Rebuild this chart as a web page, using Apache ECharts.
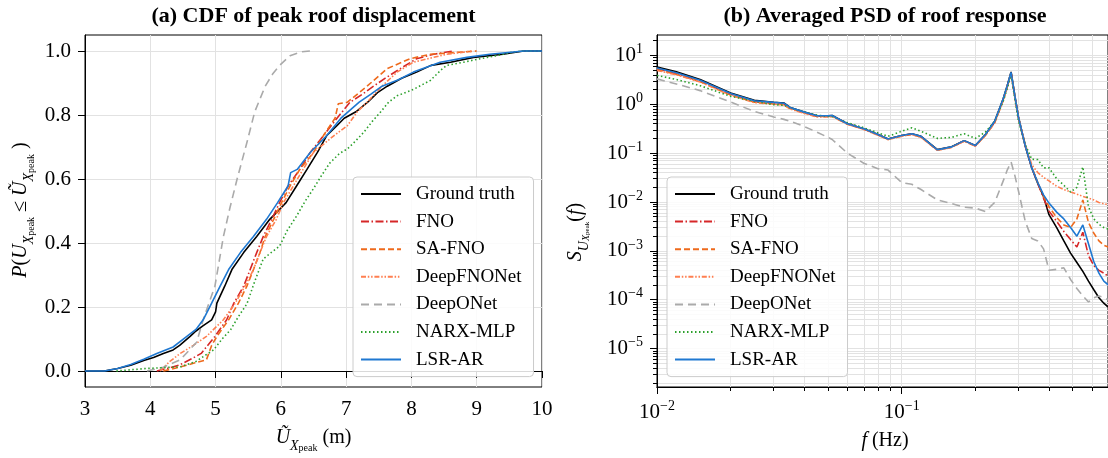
<!DOCTYPE html>
<html><head><meta charset="utf-8">
<style>html,body{margin:0;padding:0;background:#fff}#c{width:1108px;height:458px}</style>
<script src="https://cdn.jsdelivr.net/npm/echarts@6/dist/echarts.min.js"></script>
</head><body><div id="c"></div><script>
const seriesNames = ['Ground truth','FNO','SA-FNO','DeepFNONet','DeepONet','NARX-MLP','LSR-AR'];

// (a) empirical CDFs: [displacement (m), probability]
const cdfGroundTruth = [[3.0,0],[3.3,0],[3.5,0.008],[3.7,0.018],[3.9,0.033],[4.05,0.042],[4.2,0.055],[4.35,0.066],[4.45,0.08],[4.61,0.108],[4.7,0.125],[4.8,0.14],[4.94,0.16],[5.0,0.185],[5.02,0.212],[5.14,0.265],[5.25,0.317],[5.43,0.37],[5.63,0.42],[5.83,0.474],[5.98,0.505],[6.08,0.526],[6.24,0.578],[6.4,0.63],[6.56,0.683],[6.70,0.735],[6.85,0.765],[6.97,0.79],[7.15,0.81],[7.33,0.84],[7.48,0.87],[7.63,0.89],[7.85,0.915],[8.08,0.934],[8.3,0.955],[8.6,0.965],[8.95,0.98],[9.4,0.99],[9.72,1.0],[10,1.0]];
const cdfFNO = [[4.1,0],[4.3,0.01],[4.46,0.02],[4.65,0.04],[4.78,0.055],[4.99,0.108],[5.17,0.16],[5.28,0.212],[5.43,0.265],[5.53,0.317],[5.63,0.37],[5.73,0.42],[5.86,0.474],[5.98,0.526],[6.11,0.578],[6.29,0.63],[6.45,0.683],[6.65,0.735],[6.86,0.79],[7.06,0.84],[7.25,0.865],[7.42,0.89],[7.6,0.915],[7.83,0.945],[8.08,0.976],[8.34,0.99],[8.65,1.0]];
const cdfSAFNO = [[4.2,0],[4.45,0.012],[4.66,0.024],[4.86,0.035],[4.94,0.08],[5.02,0.108],[5.2,0.16],[5.35,0.212],[5.48,0.265],[5.58,0.317],[5.68,0.37],[5.76,0.42],[5.89,0.474],[6.01,0.526],[6.14,0.578],[6.29,0.63],[6.5,0.683],[6.65,0.735],[6.83,0.79],[6.88,0.835],[7.02,0.84],[7.32,0.89],[7.63,0.945],[7.98,0.976],[8.29,0.99],[9.0,1.0]];
const cdfDeepFNONet = [[4.15,0],[4.3,0.03],[4.46,0.055],[4.66,0.08],[4.86,0.108],[5.12,0.16],[5.3,0.212],[5.45,0.265],[5.58,0.317],[5.68,0.37],[5.78,0.42],[5.93,0.474],[6.04,0.526],[6.19,0.578],[6.34,0.63],[6.5,0.683],[6.81,0.735],[7.02,0.767],[7.17,0.81],[7.32,0.84],[7.55,0.89],[7.78,0.934],[8.03,0.965],[8.54,0.99],[8.95,1.0]];
const cdfDeepONet = [[3.95,0],[4.2,0.012],[4.46,0.035],[4.71,0.09],[4.81,0.16],[4.99,0.265],[5.12,0.42],[5.22,0.51],[5.33,0.6],[5.48,0.714],[5.6,0.81],[5.76,0.89],[5.88,0.93],[5.98,0.955],[6.14,0.985],[6.3,0.997],[6.45,1.0]];
const cdfNARX = [[3.48,0],[3.95,0.008],[4.46,0.013],[4.7,0.03],[4.97,0.066],[5.1,0.1],[5.23,0.129],[5.35,0.17],[5.48,0.21],[5.6,0.28],[5.73,0.35],[5.85,0.37],[5.98,0.39],[6.1,0.44],[6.24,0.484],[6.37,0.53],[6.5,0.57],[6.62,0.61],[6.75,0.65],[6.9,0.68],[7.02,0.694],[7.15,0.72],[7.27,0.746],[7.4,0.78],[7.53,0.81],[7.65,0.84],[7.78,0.86],[8.03,0.88],[8.29,0.908],[8.45,0.94],[8.54,0.955],[8.8,0.965],[9.05,0.976],[9.3,0.985],[9.56,0.997],[9.7,1.0],[10,1.0]];
const cdfLSRAR = [[3.0,0],[3.3,0],[3.5,0.008],[3.7,0.02],[3.9,0.037],[4.1,0.055],[4.35,0.075],[4.56,0.108],[4.7,0.13],[4.81,0.16],[4.94,0.212],[5.07,0.265],[5.2,0.317],[5.38,0.37],[5.58,0.42],[5.78,0.474],[5.95,0.526],[6.11,0.578],[6.15,0.62],[6.25,0.63],[6.45,0.683],[6.70,0.735],[6.92,0.79],[7.2,0.84],[7.38,0.865],[7.55,0.89],[7.8,0.91],[8.03,0.934],[8.44,0.965],[8.85,0.98],[9.2,0.99],[9.72,1.0],[10,1.0]];

// (b) averaged PSD: frequency (Hz) and values per model
const psdFreq = [0.01,0.012,0.015,0.02,0.025,0.03,0.033,0.035,0.04,0.045,0.05,0.052,0.06,0.07,0.08,0.088,0.1,0.11,0.12,0.14,0.16,0.18,0.2,0.22,0.24,0.26,0.27,0.28,0.29,0.3,0.32,0.34,0.36,0.38,0.4,0.43,0.46,0.49,0.52,0.55,0.58,0.61,0.64,0.67,0.7];
const psdGroundTruth = [5.8,4.6,3.2,1.7,1.2,1.1,1.06,0.86,0.69,0.58,0.58,0.59,0.40,0.315,0.24,0.195,0.23,0.25,0.22,0.118,0.135,0.18,0.143,0.24,0.45,1.3,2.4,4.6,1.5,0.55,0.14,0.05,0.024,0.013,0.0055,0.003,0.0016,0.0009,0.00058,0.00038,0.00024,0.00016,0.00011,0.000085,0.00007];
const psdFNO = [5.3,4.2,3.0,1.6,1.13,1.04,1.0,0.83,0.67,0.57,0.57,0.58,0.40,0.31,0.24,0.195,0.228,0.245,0.215,0.116,0.133,0.178,0.141,0.235,0.43,1.25,2.3,4.4,1.45,0.54,0.14,0.05,0.024,0.012,0.0065,0.004,0.0025,0.0017,0.0012,0.0024,0.0008,0.0005,0.0004,0.00035,0.0003];
const psdSAFNO = [5.1,4.1,2.9,1.55,1.1,1.02,0.98,0.82,0.66,0.56,0.56,0.57,0.39,0.31,0.235,0.19,0.225,0.24,0.212,0.115,0.132,0.176,0.14,0.232,0.42,1.2,2.3,4.4,1.45,0.54,0.14,0.052,0.025,0.013,0.008,0.0048,0.0034,0.003,0.0045,0.011,0.0038,0.0023,0.0016,0.0013,0.0012];
const psdDeepFNONet = [4.9,4.0,2.85,1.52,1.08,1.0,0.97,0.8,0.65,0.55,0.55,0.56,0.39,0.305,0.232,0.19,0.222,0.24,0.21,0.114,0.131,0.175,0.139,0.23,0.42,1.2,2.2,4.2,1.45,0.55,0.15,0.058,0.04,0.032,0.027,0.021,0.018,0.016,0.0145,0.013,0.012,0.011,0.0098,0.0092,0.0088];
const psdDeepONet = [3.3,2.6,1.9,1.11,0.71,0.55,0.49,0.45,0.35,0.27,0.21,0.19,0.1,0.062,0.048,0.045,0.025,0.023,0.018,0.011,0.0093,0.0078,0.0075,0.0064,0.0098,0.027,0.045,0.066,0.035,0.017,0.004,0.0018,0.0016,0.0011,0.0004,0.00042,0.00045,0.00026,0.00017,0.00012,0.00009,0.00011,0.00012,0.00011,0.0001];
const psdNARX = [3.9,3.2,2.4,1.45,1.15,0.98,0.95,0.85,0.7,0.6,0.56,0.56,0.42,0.33,0.26,0.22,0.28,0.33,0.28,0.2,0.21,0.25,0.2,0.27,0.45,1.15,2.1,4.0,1.3,0.45,0.15,0.075,0.074,0.05,0.05,0.03,0.022,0.016,0.02,0.052,0.008,0.0045,0.0035,0.003,0.0028];
const psdLSRAR = [5.5,4.4,3.1,1.66,1.18,1.09,1.05,0.86,0.69,0.58,0.58,0.59,0.40,0.315,0.24,0.195,0.23,0.25,0.22,0.117,0.134,0.18,0.143,0.24,0.45,1.3,2.4,4.5,1.5,0.55,0.14,0.05,0.025,0.014,0.0095,0.0062,0.0045,0.003,0.002,0.0034,0.0014,0.0006,0.00035,0.00024,0.0002];

// tick values
const cdfYTicks = [0,0.2,0.4,0.6,0.8,1.0];
const psdXMajor = [0.01,0.1];
const psdXMinor = [0.02,0.03,0.04,0.05,0.06,0.07,0.08,0.09,0.2,0.3,0.4,0.5,0.6];
const psdYMajor = [1e-5,1e-4,1e-3,1e-2,1e-1,1,10];
const psdYMinor = [2e-6,3e-6,4e-6,5e-6,6e-6,7e-6,8e-6,9e-6,
  2e-5,3e-5,4e-5,5e-5,6e-5,7e-5,8e-5,9e-5,
  2e-4,3e-4,4e-4,5e-4,6e-4,7e-4,8e-4,9e-4,
  2e-3,3e-3,4e-3,5e-3,6e-3,7e-3,8e-3,9e-3,
  0.02,0.03,0.04,0.05,0.06,0.07,0.08,0.09,
  0.2,0.3,0.4,0.5,0.6,0.7,0.8,0.9,
  2,3,4,5,6,7,8,9,20];

const cdfData = [cdfGroundTruth,cdfFNO,cdfSAFNO,cdfDeepFNONet,cdfDeepONet,cdfNARX,cdfLSRAR];
const psdData = [psdGroundTruth,psdFNO,psdSAFNO,psdDeepFNONet,psdDeepONet,psdNARX,psdLSRAR];

const colors = ['#000000','#d62728','#ee6a1c','#ff7f50','#aaaaaa','#2ca02c','#1f78d1'];
const dashes = ['solid',[8,2.5,1.5,2.5],[6,3],[5,1.8,1.5,1.8,1.5,1.8],[8,5],[1.5,2.5],'solid'];
const FONT = 'Liberation Serif';
const GRIDC = '#e2e2e2';

const series = [];
seriesNames.forEach((n,i)=>{
  series.push({type:'line',name:n,xAxisIndex:0,yAxisIndex:0,data:cdfData[i],symbol:'none',showSymbol:false,
    lineStyle:{color:colors[i],width:1.6,type:dashes[i]},itemStyle:{color:colors[i]},z:3+i,animation:false});
});
seriesNames.forEach((n,i)=>{
  series.push({type:'line',name:n,xAxisIndex:1,yAxisIndex:1,data:psdFreq.map((f,k)=>[f,psdData[i][k]]),symbol:'none',showSymbol:false,
    lineStyle:{color:colors[i],width:1.6,type:dashes[i]},itemStyle:{color:colors[i]},z:3+i,animation:false});
});

function pow10Label(v){
  const e = Math.round(Math.log10(v));
  return '{b|10}{e|' + (e<0 ? '\u2212'+(-e) : e) + '}';
}
const lblStyle = {color:'#000',fontFamily:FONT,fontSize:21};
const powRich = {b:{fontFamily:FONT,fontSize:21,color:'#000',lineHeight:26},e:{fontFamily:FONT,fontSize:14,color:'#000',lineHeight:14,verticalAlign:'top'}};
const axLine = {show:true,lineStyle:{color:'#000',width:1}};

const legendBase = {orient:'vertical',itemWidth:40,itemHeight:14,itemGap:7.6,
  textStyle:{fontFamily:FONT,fontSize:19,color:'#000',lineHeight:20,padding:[0,0,0,10]},
  itemStyle:{opacity:0,color:'transparent',borderColor:'transparent',borderWidth:0},
  padding:[7,12,7,7],backgroundColor:'rgba(255,255,255,0.85)',borderColor:'#cccccc',borderWidth:1,borderRadius:4,
  data:seriesNames,selectedMode:false};

const mathRich = {
  i:{fontFamily:FONT,fontSize:20,fontStyle:'italic',lineHeight:30,color:'#000'},
  n:{fontFamily:FONT,fontSize:20,lineHeight:30,color:'#000'},
  x:{fontFamily:FONT,fontSize:14,fontStyle:'italic',lineHeight:20,verticalAlign:'bottom',color:'#000'},
  p:{fontFamily:FONT,fontSize:10,lineHeight:12,verticalAlign:'bottom',color:'#000'},
  u2:{fontFamily:FONT,fontSize:14,fontStyle:'italic',lineHeight:20,verticalAlign:'bottom',color:'#000'},
  x2:{fontFamily:FONT,fontSize:10,fontStyle:'italic',lineHeight:12,verticalAlign:'bottom',color:'#000'},
  p2:{fontFamily:FONT,fontSize:7,lineHeight:7,verticalAlign:'bottom',color:'#000'}
};

const option = {
  backgroundColor:'#ffffff',
  animation:false,
  grid:[
    {left:85,top:35,width:457,height:352,show:true,borderColor:'#000',borderWidth:1,backgroundColor:'transparent'},
    {left:657,top:35,width:457,height:352,show:true,borderColor:'#000',borderWidth:1,backgroundColor:'transparent'}
  ],
  xAxis:[
    {type:'value',gridIndex:0,min:3,max:10,interval:1,axisLine:axLine,
      axisTick:{show:true,length:7,lineStyle:{color:'#000'}},
      axisLabel:Object.assign({margin:12},lblStyle),
      splitLine:{show:true,lineStyle:{color:GRIDC,width:1}}},
    {type:'log',logBase:10,gridIndex:1,min:0.01,max:0.697,axisLine:axLine,
      axisTick:{show:true,length:7,lineStyle:{color:'#000'},customValues:psdXMajor},
      axisLabel:{show:true,margin:12,customValues:psdXMajor,formatter:pow10Label,rich:powRich},
      splitLine:{show:true,lineStyle:{color:GRIDC,width:1}}},
    {type:'log',logBase:10,gridIndex:1,min:0.01,max:0.697,position:'bottom',axisLine:axLine,
      axisTick:{show:true,length:4,lineStyle:{color:'#000'},customValues:psdXMinor},
      axisLabel:{show:false},
      splitLine:{show:true,lineStyle:{color:GRIDC,width:1}}}
  ],
  yAxis:[
    {type:'value',gridIndex:0,min:-0.05,max:1.05,axisLine:axLine,
      axisTick:{show:true,length:7,lineStyle:{color:'#000'},customValues:cdfYTicks},
      axisLabel:Object.assign({margin:14,customValues:cdfYTicks,formatter:v=>v.toFixed(1)},lblStyle),
      splitLine:{show:true,lineStyle:{color:GRIDC,width:1}}},
    {type:'log',logBase:10,gridIndex:1,min:1.64e-6,max:26.1,axisLine:axLine,
      axisTick:{show:true,length:7,lineStyle:{color:'#000'},customValues:psdYMajor},
      axisLabel:{show:true,margin:14,customValues:psdYMajor,formatter:pow10Label,rich:powRich},
      splitLine:{show:true,lineStyle:{color:GRIDC,width:1}}},
    {type:'log',logBase:10,gridIndex:1,min:1.64e-6,max:26.1,position:'left',axisLine:axLine,
      axisTick:{show:true,length:4,lineStyle:{color:'#000'},customValues:psdYMinor},
      axisLabel:{show:false},
      splitLine:{show:true,lineStyle:{color:GRIDC,width:1}}}
  ],
  legend:[
    Object.assign({left:353,top:177},legendBase),
    Object.assign({left:667,top:177},legendBase)
  ],
  series:series,
  graphic:[
    {type:'text',x:313.5,y:16,style:{text:'(a) CDF of peak roof displacement',fontFamily:FONT,fontSize:22,fontWeight:'bold',fill:'#000',align:'center',verticalAlign:'middle'}},
    {type:'text',x:885,y:16,style:{text:'(b) Averaged PSD of roof response',fontFamily:FONT,fontSize:22,fontWeight:'bold',fill:'#000',align:'center',verticalAlign:'middle'}},
    {type:'text',x:313.5,y:438,style:{text:'{i|\u0168}{x|X}{p|peak}{n| (m)}',rich:mathRich,align:'center',verticalAlign:'middle',fill:'#000'}},
    {type:'text',x:885,y:441,style:{text:'{i|f}{n| (Hz)}',rich:mathRich,align:'center',verticalAlign:'middle',fill:'#000'}},
    {type:'text',x:21,y:210,rotation:Math.PI/2,style:{text:'{i|P}{n|(}{i|U}{x|X}{p|peak}{n| \u2264 }{i|\u0168}{x|X}{p|peak}{n| )}',rich:mathRich,align:'center',verticalAlign:'middle',fill:'#000'}},
    {type:'text',x:576,y:232,rotation:Math.PI/2,style:{text:'{i|S}{u2|U}{x2|X}{p2|peak}{n|(}{i|f}{n|)}',rich:mathRich,align:'center',verticalAlign:'middle',fill:'#000'}}
  ]
};
const chart = echarts.init(document.getElementById('c'),null,{renderer:'canvas'});
chart.setOption(option);
</script></body></html>
